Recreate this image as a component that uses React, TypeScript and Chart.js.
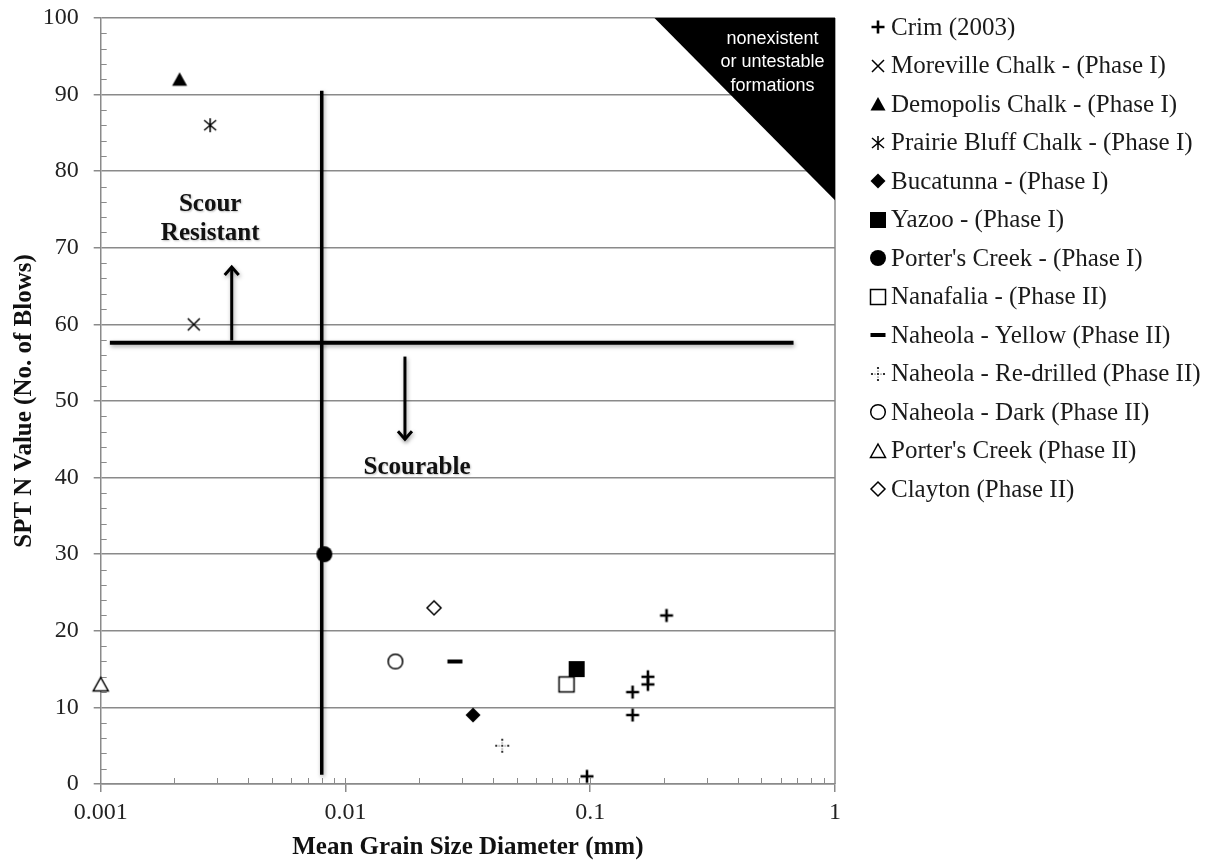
import React, { useEffect, useRef } from 'react';
import { Chart, registerables } from 'chart.js';

Chart.register(...registerables);

// ---------- data ----------
const SERIES_NAMES = [
  'Crim (2003)',
  'Moreville Chalk - (Phase I)',
  'Demopolis Chalk - (Phase I)',
  'Prairie Bluff Chalk - (Phase I)',
  'Bucatunna - (Phase I)',
  'Yazoo - (Phase I)',
  "Porter's Creek - (Phase I)",
  'Nanafalia - (Phase II)',
  'Naheola - Yellow (Phase II)',
  'Naheola - Re-drilled (Phase II)',
  'Naheola - Dark (Phase II)',
  "Porter's Creek (Phase II)",
  'Clayton (Phase II)',
];

const CRIM_X = [0.205, 0.172, 0.172, 0.149, 0.149, 0.097];
const CRIM_Y = [22, 14, 13, 12, 9, 1];
const MOREVILLE_X = [0.0024];
const MOREVILLE_Y = [60];
const DEMOPOLIS_X = [0.0021];
const DEMOPOLIS_Y = [92];
const PRAIRIE_X = [0.0028];
const PRAIRIE_Y = [86];
const BUCATUNNA_X = [0.0332];
const BUCATUNNA_Y = [9];
const YAZOO_X = [0.088];
const YAZOO_Y = [15];
const PORTERS1_X = [0.0082];
const PORTERS1_Y = [30];
const NANAFALIA_X = [0.08];
const NANAFALIA_Y = [13];
const NAHEOLA_YEL_X = [0.028];
const NAHEOLA_YEL_Y = [16];
const NAHEOLA_RED_X = [0.0437];
const NAHEOLA_RED_Y = [5];
const NAHEOLA_DARK_X = [0.016];
const NAHEOLA_DARK_Y = [16];
const PORTERS2_X = [0.001];
const PORTERS2_Y = [13];
const CLAYTON_X = [0.023];
const CLAYTON_Y = [23];

const SERIES_X = [CRIM_X, MOREVILLE_X, DEMOPOLIS_X, PRAIRIE_X, BUCATUNNA_X, YAZOO_X, PORTERS1_X,
  NANAFALIA_X, NAHEOLA_YEL_X, NAHEOLA_RED_X, NAHEOLA_DARK_X, PORTERS2_X, CLAYTON_X];
const SERIES_Y = [CRIM_Y, MOREVILLE_Y, DEMOPOLIS_Y, PRAIRIE_Y, BUCATUNNA_Y, YAZOO_Y, PORTERS1_Y,
  NANAFALIA_Y, NAHEOLA_YEL_Y, NAHEOLA_RED_Y, NAHEOLA_DARK_Y, PORTERS2_Y, CLAYTON_Y];
const SERIES_MARKERS = ['plus', 'cross', 'triFill', 'asterisk', 'diamondFill', 'squareFill', 'circleFill',
  'squareOpen', 'dash', 'dotCross', 'circleOpen', 'triOpen', 'diamondOpen'];

const X_TICKS = [0.001, 0.01, 0.1, 1];
const X_TICK_LABELS = ['0.001', '0.01', '0.1', '1'];
const Y_MIN = 0;
const Y_MAX = 100;
const Y_STEP = 10;

// annotation values (data units)
const THRESHOLD_N = 57.6;
const THRESHOLD_N_FROM = 0.00109;
const THRESHOLD_N_TO = 0.677;
const THRESHOLD_D = 0.008;
const THRESHOLD_D_FROM = 1.2;
const THRESHOLD_D_TO = 90.5;
const UP_ARROW = { x: 0.00343, from: 57.9, to: 67.5 };
const DOWN_ARROW = { x: 0.0175, from: 55.8, to: 45.0 };
const NOGO_X = [0.183, 1, 1];
const NOGO_Y = [100, 100, 76.2];
const NOGO_TEXT = ['nonexistent', 'or untestable', 'formations'];
const NOGO_TEXT_X = 0.555;
const NOGO_TEXT_Y = [96.6, 93.6, 90.5];
const RESIST_TEXT = ['Scour', 'Resistant'];
const RESIST_X = 0.0028;
const RESIST_Y = [75.6, 71.8];
const SCOURABLE_TEXT = 'Scourable';
const SCOURABLE_X = 0.0196;
const SCOURABLE_Y = 41.3;

const SERIF = '"Liberation Serif", "Times New Roman", serif';
const GRID = '#8a8a8a';

function makeMarker(kind: string): HTMLCanvasElement {
  const s = 22;
  const c = document.createElement('canvas');
  c.width = s;
  c.height = s;
  const g = c.getContext('2d') as CanvasRenderingContext2D;
  g.translate(s / 2, s / 2);
  g.strokeStyle = '#000';
  g.fillStyle = '#000';
  g.lineWidth = 1.5;
  const poly = (pts: number[][], fill: boolean) => {
    g.beginPath();
    pts.forEach((p, i) => (i ? g.lineTo(p[0], p[1]) : g.moveTo(p[0], p[1])));
    g.closePath();
    if (fill) {
      g.fill();
    } else {
      g.fillStyle = '#fff';
      g.fill();
      g.stroke();
    }
  };
  switch (kind) {
    case 'plus':
      g.lineWidth = 2.6;
      g.beginPath();
      g.moveTo(-6.5, 0); g.lineTo(6.5, 0);
      g.moveTo(0, -6.5); g.lineTo(0, 6.5);
      g.stroke();
      break;
    case 'cross':
      g.beginPath();
      g.moveTo(-6, -6); g.lineTo(6, 6);
      g.moveTo(6, -6); g.lineTo(-6, 6);
      g.stroke();
      break;
    case 'triFill':
      poly([[0, -7], [7.5, 6.5], [-7.5, 6.5]], true);
      break;
    case 'asterisk':
      g.beginPath();
      g.moveTo(-6, -5); g.lineTo(6, 5);
      g.moveTo(6, -5); g.lineTo(-6, 5);
      g.moveTo(0, -7); g.lineTo(0, 7);
      g.stroke();
      break;
    case 'diamondFill':
      poly([[0, -7.5], [7.5, 0], [0, 7.5], [-7.5, 0]], true);
      break;
    case 'squareFill':
      g.fillRect(-8, -8, 16, 16);
      break;
    case 'circleFill':
      g.beginPath(); g.arc(0, 0, 8, 0, Math.PI * 2); g.fill();
      break;
    case 'squareOpen':
      g.fillStyle = '#fff';
      g.fillRect(-7.5, -7.5, 15, 15);
      g.strokeRect(-7.5, -7.5, 15, 15);
      break;
    case 'dash':
      g.fillRect(-7.5, -2, 15, 4);
      break;
    case 'dotCross': {
      const d = [[0, 0], [3, 0], [-3, 0], [6, 0], [-6, 0], [0, 3], [0, -3], [0, 6], [0, -6]];
      d.forEach(([x, y]) => {
        const r = (Math.abs(x) === 3 || Math.abs(y) === 3) ? 0.6 : 1.1;
        g.beginPath(); g.arc(x, y, r, 0, Math.PI * 2); g.fill();
      });
      break;
    }
    case 'circleOpen':
      g.beginPath(); g.arc(0, 0, 7.3, 0, Math.PI * 2);
      g.fillStyle = '#fff'; g.fill(); g.stroke();
      break;
    case 'triOpen':
      poly([[0, -7], [7.5, 6.5], [-7.5, 6.5]], false);
      break;
    case 'diamondOpen':
      poly([[0, -7], [7, 0], [0, 7], [-7, 0]], false);
      break;
  }
  return c;
}

export default function App() {
  const ref = useRef<HTMLCanvasElement | null>(null);

  useEffect(() => {
    if (!ref.current) return;
    const markers = SERIES_MARKERS.map(makeMarker);

    const overlay = {
      id: 'overlay',
      beforeDatasetsDraw(chart: any) {
        const { ctx, chartArea: ca, scales } = chart;
        const x = scales.x;
        const y = scales.y;
        const px = (v: number) => x.getPixelForValue(v);
        const py = (v: number) => y.getPixelForValue(v);
        ctx.save();

        // right border
        ctx.strokeStyle = GRID;
        ctx.lineWidth = 1.5;
        ctx.beginPath();
        ctx.moveTo(ca.right, ca.top);
        ctx.lineTo(ca.right, ca.bottom);
        ctx.stroke();

        // minor ticks
        ctx.lineWidth = 1;
        ctx.beginPath();
        for (let v = Y_MIN + 2; v < Y_MAX; v += 2) {
          if (v % Y_STEP === 0) continue;
          const yy = Math.round(py(v)) + 0.5;
          ctx.moveTo(ca.left, yy);
          ctx.lineTo(ca.left + 6, yy);
        }
        for (let d = 0; d < X_TICKS.length - 1; d++) {
          for (let k = 1; k <= 9; k++) {
            if (k === 1 && d === 0) continue;
            const xx = Math.round(px(X_TICKS[d] * k)) + 0.5;
            ctx.moveTo(xx, ca.bottom);
            ctx.lineTo(xx, ca.bottom - 6);
          }
        }
        ctx.stroke();

        // black region
        ctx.fillStyle = '#000';
        ctx.beginPath();
        NOGO_X.forEach((v, i) => {
          const X = px(v), Y = py(NOGO_Y[i]);
          if (i) ctx.lineTo(X, Y); else ctx.moveTo(X, Y);
        });
        ctx.closePath();
        ctx.fill();
        ctx.fillStyle = '#fff';
        ctx.font = '18px "Liberation Sans", "Open Sans", sans-serif';
        ctx.textAlign = 'center';
        ctx.textBaseline = 'alphabetic';
        NOGO_TEXT.forEach((t, i) => ctx.fillText(t, px(NOGO_TEXT_X), py(NOGO_TEXT_Y[i])));

        // threshold lines with soft shadow
        ctx.shadowColor = 'rgba(0,0,0,0.35)';
        ctx.shadowBlur = 4;
        ctx.shadowOffsetX = 1;
        ctx.shadowOffsetY = 2;
        ctx.strokeStyle = '#000';
        ctx.lineCap = 'butt';
        ctx.lineWidth = 3.5;
        ctx.beginPath();
        ctx.moveTo(px(THRESHOLD_D), py(THRESHOLD_D_FROM));
        ctx.lineTo(px(THRESHOLD_D), py(THRESHOLD_D_TO));
        ctx.stroke();
        ctx.lineWidth = 4;
        ctx.beginPath();
        ctx.moveTo(px(THRESHOLD_N_FROM), py(THRESHOLD_N));
        ctx.lineTo(px(THRESHOLD_N_TO), py(THRESHOLD_N));
        ctx.stroke();

        // arrows
        const arrow = (a: { x: number; from: number; to: number }) => {
          const X = px(a.x);
          const y0 = py(a.from);
          const y1 = py(a.to);
          const dir = y1 < y0 ? 1 : -1;
          ctx.lineWidth = 3;
          ctx.beginPath();
          ctx.moveTo(X, y0);
          ctx.lineTo(X, y1);
          ctx.stroke();
          ctx.lineJoin = 'miter';
          ctx.beginPath();
          ctx.moveTo(X - 7, y1 + dir * 8);
          ctx.lineTo(X, y1);
          ctx.lineTo(X + 7, y1 + dir * 8);
          ctx.stroke();
        };
        arrow(UP_ARROW);
        arrow(DOWN_ARROW);

        // region labels
        ctx.shadowColor = 'rgba(0,0,0,0.25)';
        ctx.shadowBlur = 2;
        ctx.shadowOffsetX = 1;
        ctx.shadowOffsetY = 1;
        ctx.fillStyle = '#111';
        ctx.font = 'bold 25px ' + SERIF;
        ctx.textAlign = 'center';
        ctx.textBaseline = 'middle';
        RESIST_TEXT.forEach((t, i) => ctx.fillText(t, px(RESIST_X), py(RESIST_Y[i])));
        ctx.fillText(SCOURABLE_TEXT, px(SCOURABLE_X), py(SCOURABLE_Y));
        ctx.restore();
      },
      afterDraw(chart: any) {
        const { ctx, chartArea: ca } = chart;
        ctx.save();
        ctx.font = '25px ' + SERIF;
        ctx.fillStyle = '#1a1a1a';
        ctx.textAlign = 'left';
        ctx.textBaseline = 'middle';
        SERIES_NAMES.forEach((name, i) => {
          const cy = ca.top + 9 + i * 38.5;
          const m = markers[i];
          ctx.drawImage(m, Math.round(ca.right + 43 - m.width / 2), Math.round(cy - m.height / 2));
          ctx.fillText(name, ca.right + 56, cy + 1);
        });
        ctx.restore();
      },
    };

    const datasets = SERIES_NAMES.map((name, i) => ({
      label: name,
      data: SERIES_X[i].map((xv, j) => ({ x: xv, y: SERIES_Y[i][j] })),
      pointStyle: markers[i],
      pointRadius: 8,
      showLine: false,
      clip: false as any,
      order: name.startsWith('Nanafalia') ? -1 : 0,
    }));

    const tickFont = { family: SERIF, size: 24 };
    const titleFont = { family: SERIF, size: 25, weight: 'bold' as const };

    const chart = new Chart(ref.current, {
      type: 'scatter',
      data: { datasets },
      options: {
        animation: false,
        responsive: true,
        maintainAspectRatio: false,
        events: [],
        layout: { padding: { top: 18, right: 378, bottom: 0, left: 0 } },
        plugins: { legend: { display: false }, tooltip: { enabled: false } },
        scales: {
          x: {
            type: 'logarithmic',
            position: 'bottom',
            min: X_TICKS[0],
            max: X_TICKS[X_TICKS.length - 1],
            afterBuildTicks: (s: any) => {
              s.ticks = X_TICKS.map((v) => ({ value: v, major: true }));
            },
            afterFit: (s: any) => {
              s.height = 79;
              s.paddingLeft = 0;
              s.paddingRight = 0;
            },
            ticks: {
              autoSkip: false,
              maxRotation: 0,
              padding: 6,
              font: tickFont,
              color: '#222',
              callback: (_v: any, i: number) => X_TICK_LABELS[i],
            },
            grid: { drawOnChartArea: false, drawTicks: true, tickLength: 8, color: GRID, lineWidth: 1.5 },
            border: { color: GRID, width: 1.5 },
            title: {
              display: true,
              text: 'Mean Grain Size Diameter (mm)',
              font: titleFont,
              color: '#111',
              padding: { top: 0, bottom: 0 },
            },
          },
          y: {
            type: 'linear',
            min: Y_MIN,
            max: Y_MAX,
            afterFit: (s: any) => {
              s.width = 100.7;
              s.paddingTop = 0;
              s.paddingBottom = 0;
            },
            ticks: { stepSize: Y_STEP, padding: 15, font: tickFont, color: '#222' },
            grid: { color: GRID, lineWidth: 1.5, tickLength: 7 },
            border: { color: GRID, width: 1.5 },
            title: {
              display: true,
              text: 'SPT N Value (No. of Blows)',
              font: titleFont,
              color: '#111',
              padding: { top: 10, bottom: 0 },
            },
          },
        },
      } as any,
      plugins: [overlay],
    });
    return () => chart.destroy();
  }, []);

  return (
    <div style={{ position: 'absolute', left: 0, top: 0, width: 1213, height: 863 }}>
      <canvas ref={ref} />
    </div>
  );
}
